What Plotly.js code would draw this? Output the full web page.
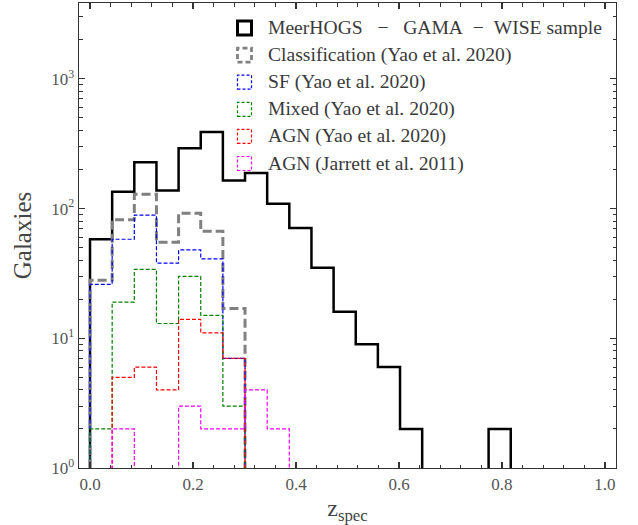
<!DOCTYPE html>
<html>
<head>
<meta charset="utf-8">
<script src="https://cdn.plot.ly/plotly-3.0.1.min.js"></script>
<style>html,body{margin:0;padding:0;background:#fff;}#chart{width:638px;height:525px;}</style>
</head>
<body>
<div id="chart"></div>
<script>
// Bin edges in z_spec (19 bins)
const binEdges = [0, 0.043, 0.086, 0.129, 0.172, 0.215, 0.258, 0.301, 0.344, 0.387, 0.430,
                  0.473, 0.516, 0.559, 0.602, 0.645, 0.688, 0.731, 0.774, 0.817];
// Counts per bin
const meerhogs = [58, 135, 228, 138, 292, 390, 165, 188, 109, 71, 35, 16, 9, 6, 2, 0, 0, 0, 2];
const classification = [28, 82, 129, 55, 92, 67, 17, 0, 0, 0, 0, 0, 0, 0, 0, 0, 0, 0, 0];
const sfYao = [26, 58, 89, 38, 48, 41, 7, 0, 0, 0, 0, 0, 0, 0, 0, 0, 0, 0, 0];
const mixedYao = [2, 19, 34, 13, 30, 15, 3, 0, 0, 0, 0, 0, 0, 0, 0, 0, 0, 0, 0];
const agnYao = [0, 5, 6, 4, 14, 11, 7, 0, 0, 0, 0, 0, 0, 0, 0, 0, 0, 0, 0];
const agnJarrett = [0, 2, 0, 0, 3, 2, 2, 4, 2, 0, 0, 0, 0, 0, 0, 0, 0, 0, 0];

const seriesLabels = [
  "MeerHOGS\u00a0\u00a0\u00a0\u2212\u00a0\u00a0\u00a0GAMA\u00a0\u00a0\u2212\u00a0\u00a0WISE sample",
  "Classification (Yao et al. 2020)",
  "SF (Yao et al. 2020)",
  "Mixed (Yao et al. 2020)",
  "AGN (Yao et al. 2020)",
  "AGN (Jarrett et al. 2011)"
];
const seriesData = [meerhogs, classification, sfYao, mixedYao, agnYao, agnJarrett];
const seriesColors = ["#000000", "#808080", "#0000ff", "#008000", "#ff0000", "#ff00ff"];
const seriesWidths = [2.5, 3, 1.2, 1.2, 1.2, 1.2];
const seriesDash = ["solid", "9px,4px", "4px,2px", "4px,2px", "4px,2px", "4px,2px"];

const xTickVals = [0, 0.2, 0.4, 0.6, 0.8, 1.0];
const xTickText = ["0.0", "0.2", "0.4", "0.6", "0.8", "1.0"];
const xMinorVals = [0.04, 0.08, 0.12, 0.16, 0.24, 0.28, 0.32, 0.36, 0.44, 0.48, 0.52, 0.56,
                    0.64, 0.68, 0.72, 0.76, 0.84, 0.88, 0.92, 0.96];
const yTickVals = [1, 10, 100, 1000];
const yTickText = ["10<sup>0</sup>", "10<sup>1</sup>", "10<sup>2</sup>", "10<sup>3</sup>"];
const yMinorVals = [2,3,4,5,6,7,8,9,20,30,40,50,60,70,80,90,200,300,400,500,600,700,800,900,2000,3000];

const FLOOR = 0.1; // zero counts drawn below the visible log range (clipped)
const FONT = "'Liberation Serif', 'Times New Roman', serif";

function stepXY(counts) {
  const x = [binEdges[0]], y = [FLOOR];
  for (let i = 0; i < counts.length; i++) {
    const v = counts[i] > 0 ? counts[i] : FLOOR;
    x.push(binEdges[i], binEdges[i + 1]);
    y.push(v, v);
  }
  x.push(binEdges[binEdges.length - 1]);
  y.push(FLOOR);
  return {x, y};
}

const traces = seriesData.map((c, i) => {
  const s = stepXY(c);
  return {
    type: "scatter", mode: "lines", x: s.x, y: s.y, name: seriesLabels[i],
    line: {color: seriesColors[i], width: seriesWidths[i], dash: seriesDash[i]},
    hoverinfo: "skip", showlegend: false
  };
});

// Plot area in pixels (for legend placement)
const L = 79, R = 616, T = 3, B = 468;
const px = v => (v - L) / (R - L);
const py = v => (B - v) / (B - T);

const shapes = [], annotations = [];
seriesLabels.forEach((lab, i) => {
  const cy = 28 + 27.1 * i;
  shapes.push({
    type: "rect", xref: "paper", yref: "paper",
    x0: px(237.5), x1: px(251.5), y0: py(cy + 7), y1: py(cy - 7),
    line: {color: seriesColors[i], width: i === 0 ? 3 : (i === 1 ? 2.8 : 1.2),
           dash: i === 0 ? "solid" : (i === 1 ? "5px,3px" : "3px,2px")},
    fillcolor: "rgba(0,0,0,0)"
  });
  annotations.push({
    xref: "paper", yref: "paper", x: px(266), y: py(cy), xanchor: "left", yanchor: "middle",
    text: lab, showarrow: false, font: {family: FONT, size: 19.6, color: "#3a3a3a"}
  });
});

const axisCommon = {
  showline: true, linecolor: "#333", linewidth: 1.3, mirror: "ticks",
  ticks: "inside", ticklen: 6, tickwidth: 1.1, tickcolor: "#333",
  showgrid: false, zeroline: false,
  tickfont: {family: FONT, size: 17, color: "#555"}
};

const layout = {
  width: 638, height: 525,
  margin: {l: L, r: 638 - R, t: T, b: 525 - B},
  paper_bgcolor: "#fff", plot_bgcolor: "#fff",
  showlegend: false,
  xaxis: Object.assign({}, axisCommon, {
    range: [-0.0214, 1.0214], tickmode: "array", tickvals: xTickVals, ticktext: xTickText,
    minor: {tickmode: "array", tickvals: xMinorVals, ticks: "inside", ticklen: 3.5, tickwidth: 1, tickcolor: "#333"},
    title: {text: "z<sub>spec</sub>", font: {family: FONT, size: 24, color: "#444"}, standoff: 7}
  }),
  yaxis: Object.assign({}, axisCommon, {
    type: "log", range: [0, 3.585], tickmode: "array", tickvals: yTickVals, ticktext: yTickText,
    minor: {tickmode: "array", tickvals: yMinorVals, ticks: "inside", ticklen: 3.5, tickwidth: 1, tickcolor: "#333"},
    title: {text: "Galaxies", font: {family: FONT, size: 25, color: "#444"}, standoff: 12}
  }),
  shapes: shapes,
  annotations: annotations
};

Plotly.newPlot("chart", traces, layout, {displayModeBar: false, staticPlot: true});
</script>
</body>
</html>
